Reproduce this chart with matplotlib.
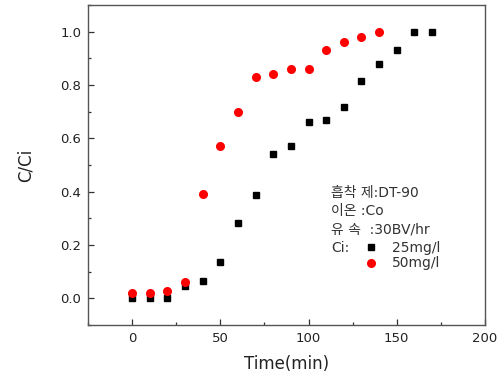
import matplotlib
matplotlib.use("Agg")
from matplotlib import pyplot as plt
from matplotlib.ticker import MultipleLocator

plt.rcParams["font.family"] = ["DejaVu Sans", "Noto Sans CJK KR"]

time_25 = [0, 10, 20, 30, 40, 50, 60, 70, 80, 90, 100, 110, 120, 130, 140, 150, 160, 170]
ratio_25 = [0.0, 0.0, 0.0, 0.046, 0.064, 0.138, 0.284, 0.386, 0.543, 0.573, 0.66, 0.67,
            0.716, 0.816, 0.879, 0.932, 1.0, 1.0]

time_50 = [0, 10, 20, 30, 40, 50, 60, 70, 80, 90, 100, 110, 120, 130, 140]
ratio_50 = [0.02, 0.022, 0.027, 0.063, 0.39, 0.573, 0.70, 0.83, 0.84, 0.86, 0.86, 0.93,
            0.96, 0.98, 1.0]

info_lines = ["흡착 제:DT-90", "이온 :Co", "유 속  :30BV/hr"]
series_labels = ["25mg/l", "50mg/l"]

fig = plt.figure(figsize=(5.03, 3.78), dpi=100)
ax = fig.add_axes([0.175, 0.140, 0.789, 0.847])

sq, = ax.plot(time_25, ratio_25, "s", color="black", markersize=4.5, linestyle="none")
ci, = ax.plot(time_50, ratio_50, "o", color="red", markersize=5.5, linestyle="none")

ax.set_xlim(-25, 200)
ax.set_ylim(-0.1, 1.1)
ax.xaxis.set_major_locator(MultipleLocator(50))
ax.xaxis.set_minor_locator(MultipleLocator(25))
ax.yaxis.set_major_locator(MultipleLocator(0.2))
ax.yaxis.set_minor_locator(MultipleLocator(0.1))
ax.yaxis.set_major_formatter(lambda v, p: f"{v:.1f}")
ax.tick_params(which="both", direction="in", top=False, right=False,
               labelsize=9.5, colors="#333333", labelcolor="#222222")
ax.tick_params(which="major", length=4, width=0.9, pad=5)
ax.tick_params(which="minor", length=2, width=0.9)
for s in ax.spines.values():
    s.set_color("#555555")
    s.set_linewidth(1.0)

ax.set_xlabel("Time(min)", fontsize=12, color="#222222", labelpad=7)
ax.set_ylabel("C/Ci", fontsize=12, color="#222222", labelpad=18)

# run conditions, written inside the plot area
tx = 0.612
for i, line in enumerate(info_lines):
    ax.text(tx, 0.4125 - i * 0.057, line, transform=ax.transAxes,
            fontsize=10, color="#333333", va="center", ha="left")
ax.text(tx, 0.241, "Ci:", transform=ax.transAxes,
        fontsize=10, color="#333333", va="center", ha="left")

ax.legend([sq, ci], series_labels, loc="upper left", bbox_to_anchor=(0.70, 0.2625),
          frameon=False, fontsize=10, handlelength=0.8, handletextpad=1.1,
          labelspacing=0.1, borderpad=0, borderaxespad=0, labelcolor="#333333")

fig.savefig("out.png", dpi=100)
